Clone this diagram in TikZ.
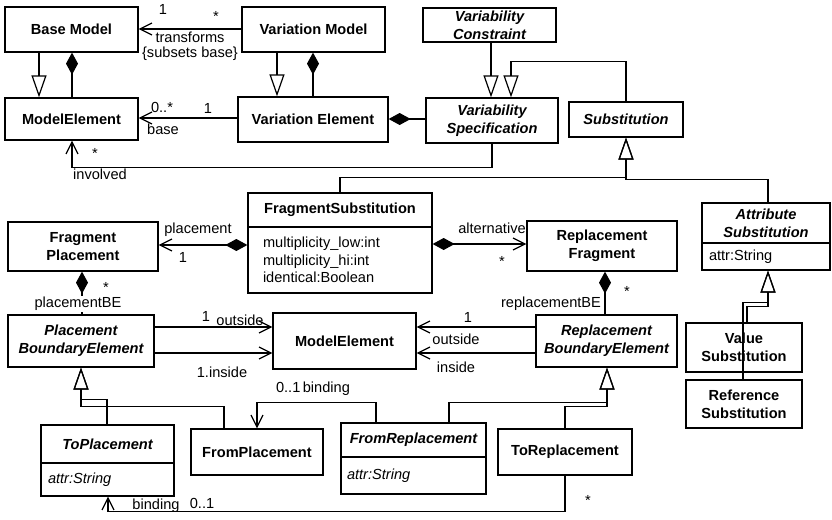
\documentclass[tikz,border=0pt]{standalone}
\usepackage{fontspec}
\setmainfont{Liberation Sans}
\usetikzlibrary{arrows.meta}

% \umlclass[options]{name}{x1}{y1}{x2}{y2}{text}: a box given by its corners
\newcommand\umlclass[7][]{%
  \node[cls,#1,minimum width={#5-#3},minimum height={#6-#4}]
    (#2) at ({(#3+#5)/2},{(#4+#6)/2}) {#7};}

\tikzset{
  cls/.style={draw=black, line width=1.3pt, fill=white, inner sep=0pt,
    align=center, font=\fontsize{14.6}{18}\selectfont\bfseries},
  abs/.style={font=\fontsize{14.6}{18}\selectfont\bfseries\itshape},
  attrs/.style={font=\fontsize{14.6}{17.5}\selectfont, align=left},
  iattrs/.style={font=\fontsize{14.6}{17.5}\selectfont\itshape, align=left},
  lbl/.style={font=\fontsize{14.6}{17}\selectfont, inner sep=0pt},
  link/.style={line width=1.2pt},
  gen/.style={link, -{Triangle[open,length=22pt,width=15pt]}},
  assoc/.style={link, -{Straight Barb[length=12pt,width=12pt]}},
  comp/.style={link, {Diamond[length=22pt,width=12pt]}-},
  compnav/.style={link, {Diamond[length=22pt,width=12pt]}-{Straight Barb[length=12pt,width=12pt]}},
}

\begin{document}
\begin{tikzpicture}[x=1pt,y=-1pt]
\fill[white] (0,0) rectangle (832,519);
\useasboundingbox (0,0) rectangle (832,519);

% ---- classes ----
\umlclass{bm}{5}{7}{138}{52}{Base Model}
\umlclass{me}{5}{98}{138}{140}{ModelElement}
\umlclass{vm}{242}{7}{385}{52}{Variation Model}
\umlclass{ve}{238}{97}{388}{142}{Variation Element}
\umlclass[abs]{vc}{423}{8}{556}{42}{Variability\\Constraint}
\umlclass[abs]{vs}{426}{98}{558}{143}{Variability\\Specification}
\umlclass[abs]{sub}{569}{102}{683}{137}{Substitution}

\umlclass{fs}{248}{193}{432}{227}{FragmentSubstitution}
\umlclass[attrs,text width=154]{fsa}{248}{227}{432}{293}{multiplicity\_low:int\\multiplicity\_hi:int\\identical:Boolean}
\umlclass{fp}{8}{222}{158}{271}{Fragment\\Placement}
\umlclass{rf}{527}{221}{677}{271}{Replacement\\Fragment}
\umlclass[abs]{as}{702}{203}{830}{243}{Attribute\\Substitution}
\umlclass[attrs,text width=114]{asa}{702}{243}{830}{270}{attr:String}

\umlclass[abs]{pbe}{8}{315}{154}{367}{Placement\\BoundaryElement}
\umlclass{me2}{273}{313}{416}{369}{ModelElement}
\umlclass[abs]{rbe}{536}{315}{677}{367}{Replacement\\BoundaryElement}
\umlclass{vsub}{686}{323}{802}{372}{Value\\Substitution}
\umlclass{rsub}{686}{380}{802}{428}{Reference\\Substitution}

\umlclass[abs]{tp}{41}{425}{174}{463}{ToPlacement}
\umlclass[iattrs,text width=119]{tpa}{41}{463}{174}{496}{attr:String}
\umlclass{fpl}{191}{429}{323}{475}{FromPlacement}
\umlclass[abs]{fr}{341}{423}{486}{457}{FromReplacement}
\umlclass[iattrs,text width=133]{fra}{341}{457}{486}{494}{attr:String}
\umlclass{tr}{498}{429}{632}{475}{ToReplacement}

% ---- upper part ----
\draw[assoc] (vm.west |- 0,29) -- (bm.east |- 0,29);
\node[lbl] (tm1) at (163,9) {1};
\node[lbl] (tm2) at (216,16) {*};
\node[lbl] (tm3) at (190,37) {transforms};
\node[lbl] (tm4) at (190,54) {\{subsets base\}};

\draw[gen] (bm.south -| 39,0) -- (me.north -| 39,0);
\draw[comp] (bm.south -| 72,0) -- (me.north -| 72,0);
\draw[gen] (vm.south -| 277,0) -- (ve.north -| 277,0);
\draw[comp] (vm.south -| 313,0) -- (ve.north -| 313,0);

\draw[assoc] (ve.west |- 0,118) -- (me.east |- 0,118);
\node[lbl] (bs1) at (162,107) {0..*};
\node[lbl] (bs2) at (208,108) {1};
\node[lbl] (bs3) at (163,129) {base};

\draw[comp] (ve.east |- 0,119) -- (vs.west |- 0,119);
\draw[gen] (vc.south -| 491,0) -- (vs.north -| 491,0);
\draw[gen] (sub.north) -- ++(0,-40) -| (vs.north -| 511,0);

\draw[assoc] (vs.south -| 492,0) -- ++(0,24) -| (me.south -| 72,0);
\node[lbl] (iv1) at (95,153) {*};
\node[lbl] (iv2) at (100,174) {involved};

\draw[gen] (fs.north -| 340,0) -- ++(0,-15) -| (sub.south);
\draw[gen] (as.north -| 768,0) -- ++(0,-23) -| (sub.south);

% ---- fragments ----
\draw[compnav] (fsa.west |- 0,245) -- (fp.east |- 0,245);
\node[lbl] (pl1) at (198,230) {placement};
\node[lbl] (pl2) at (183,257) {1};

\draw[compnav] (fsa.east |- 0,244) -- (rf.west |- 0,244);
\node[lbl] (al1) at (492,228) {alternative};
\node[lbl] (al2) at (502,261) {*};

\draw[comp] (fp.south -| 82,0) -- (pbe.north -| 82,0);
\node[lbl,fill=white,inner ysep=1pt] (pb1) at (78,304) {placementBE};
\node[lbl] (pb2) at (106,287) {*};

\draw[comp] (rf.south -| 605,0) -- (rbe.north -| 605,0);
\node[lbl] (rb1) at (551,304) {replacementBE};
\node[lbl] (rb2) at (627,291) {*};

% ---- boundary elements ----
\draw[assoc] (pbe.east |- 0,327) -- (me2.west |- 0,327);
\node[lbl] (po1) at (206,316) {1};
\node[lbl] (po2) at (240,320) {outside};
\draw[assoc] (pbe.east |- 0,353) -- (me2.west |- 0,353);
\node[lbl] (pi1) at (222,372) {1.inside};

\draw[assoc] (rbe.west |- 0,327) -- (me2.east |- 0,327);
\node[lbl] (ro1) at (468,317) {1};
\node[lbl] (ro2) at (456,339) {outside};
\draw[assoc] (rbe.west |- 0,353) -- (me2.east |- 0,353);
\node[lbl] (ri1) at (456,367) {inside};

% ---- attribute substitutions ----
\draw[gen] (vsub.north -| 747,0) -- ++(0,-16) -| (asa.south -| 768,0);
\draw[gen] (rsub.north -| 743,0) -- ++(0,-77) -| (asa.south -| 768,0);

% ---- bindings ----
\draw[gen] (tp.north -| 107,0) -- ++(0,-25) -| (pbe.south -| 81,0);
\draw[gen] (fpl.north -| 224,0) -- ++(0,-22) -| (pbe.south -| 81,0);
\draw[gen] (fr.north -| 449,0) -- ++(0,-20) -| (rbe.south -| 607,0);
\draw[gen] (tr.north -| 565,0) -- ++(0,-22) -| (rbe.south -| 607,0);

\draw[assoc] (fr.north -| 376,0) -- ++(0,-20) -| (fpl.north -| 257,0);
\node[lbl] (bd1) at (313,389) {0..1\,binding};

\draw[assoc] (tr.south -| 565,0) -- ++(0,36) -| (tpa.south -| 108,0);
\node[lbl] (bd2) at (156,506) {binding};
\node[lbl] (bd3) at (202,503) {0..1};
\node[lbl] (bd4) at (588,500) {*};
\end{tikzpicture}
\end{document}
